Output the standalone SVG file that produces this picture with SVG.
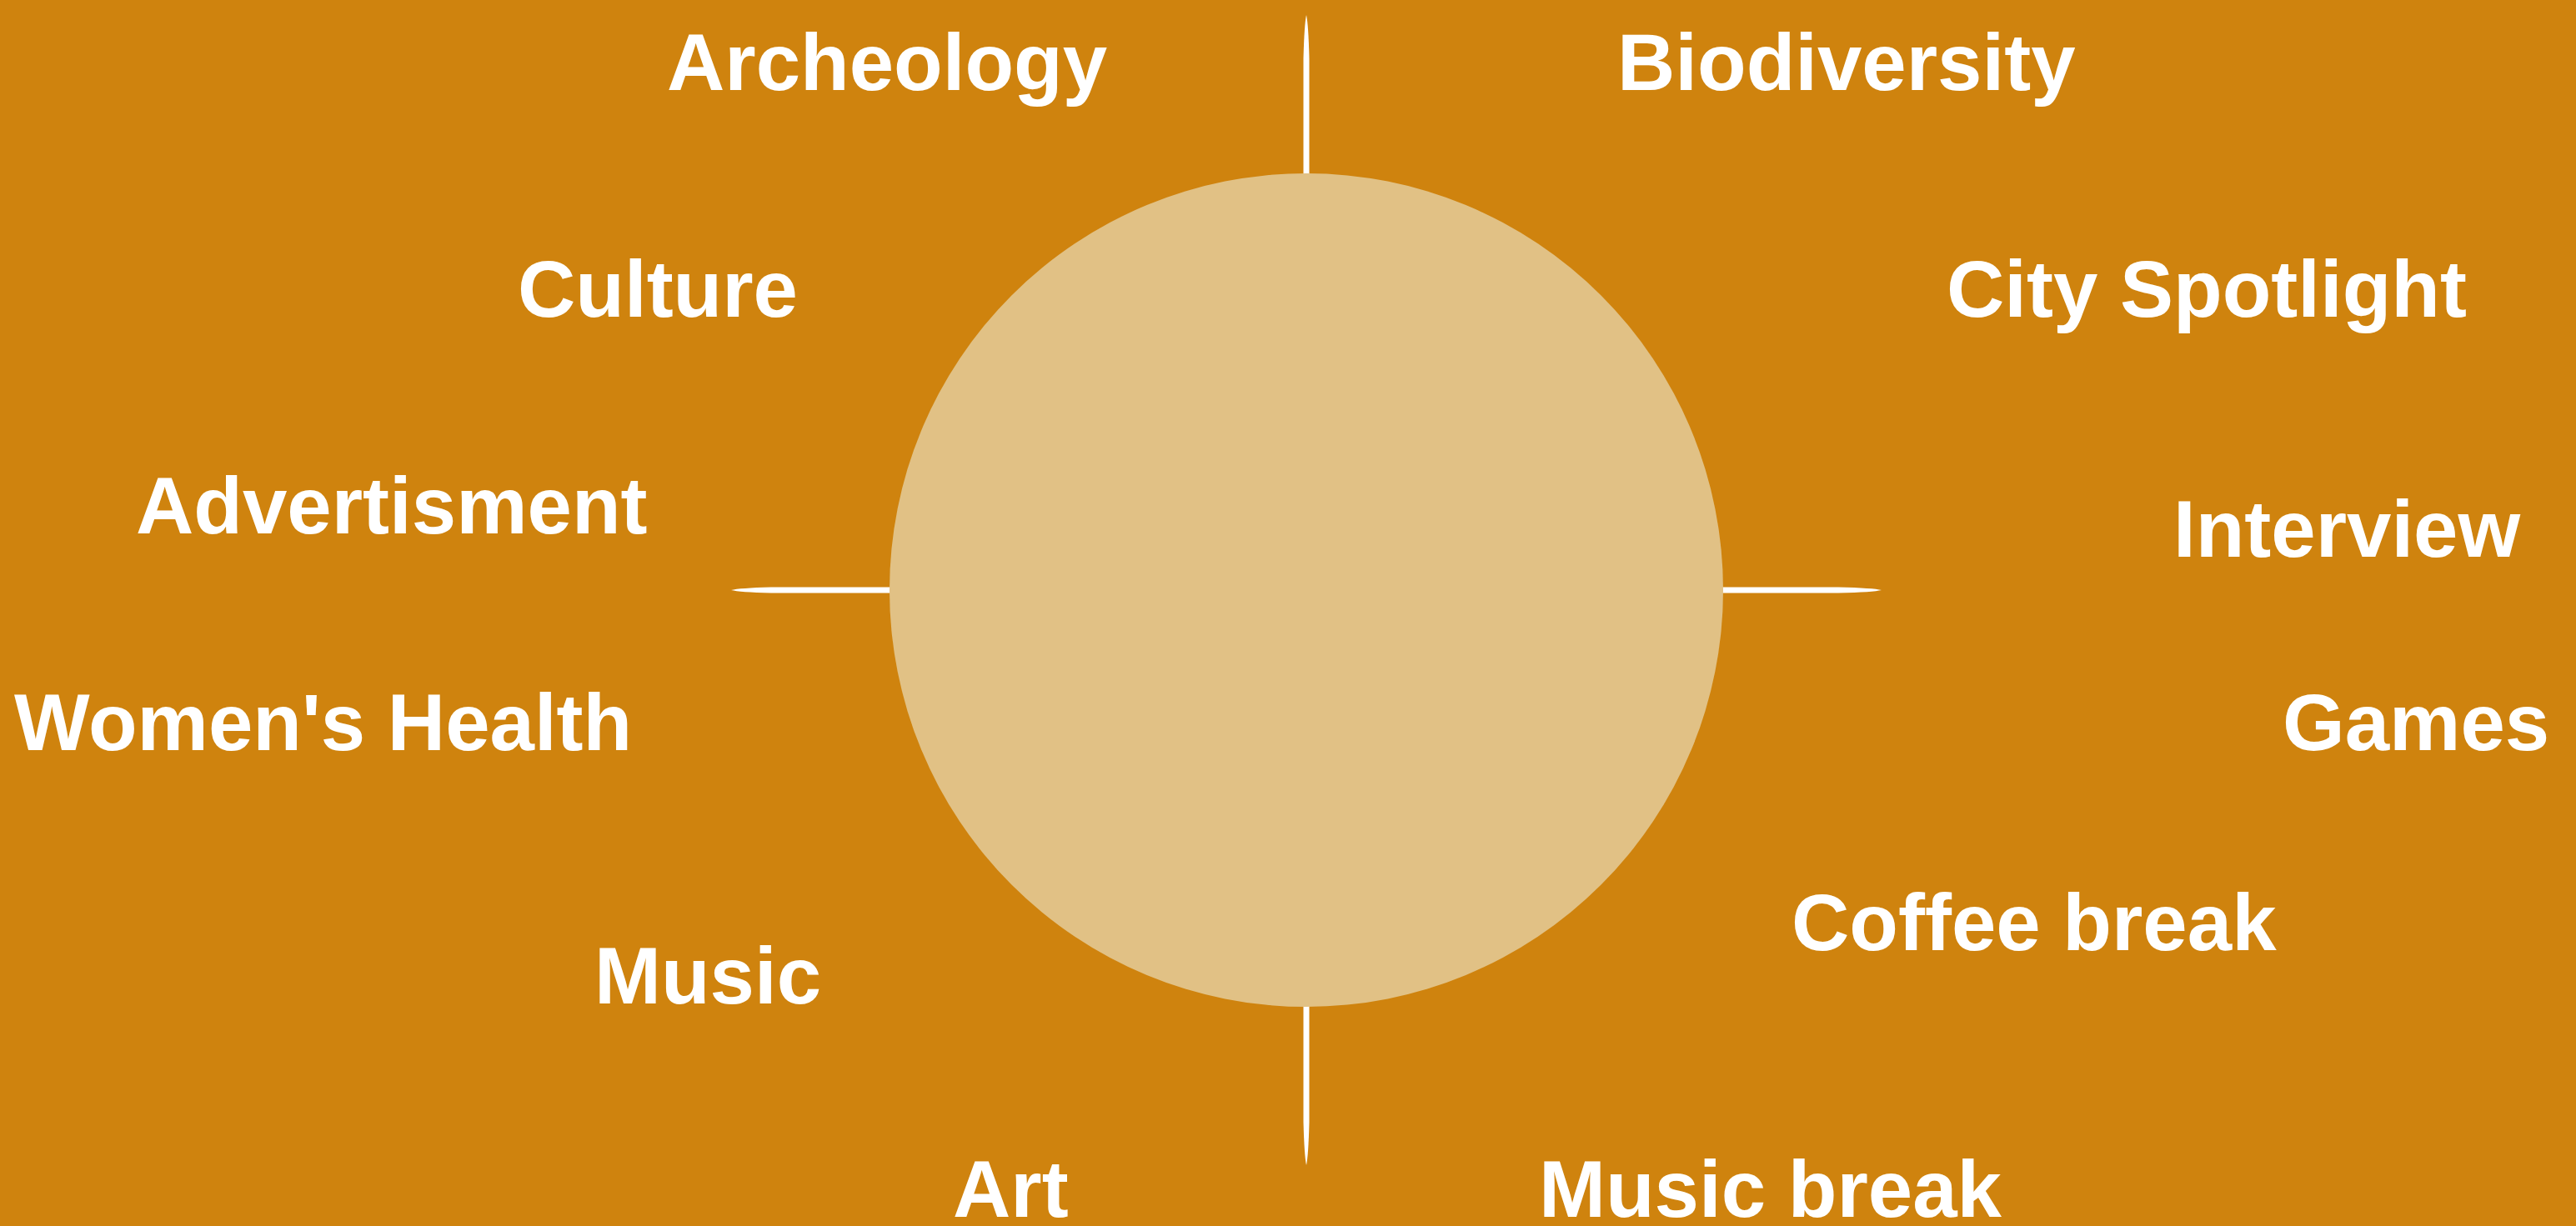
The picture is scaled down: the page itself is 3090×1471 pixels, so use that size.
<svg xmlns="http://www.w3.org/2000/svg" width="3090" height="1471" viewBox="0 0 3090 1471">
  <style>
    .bg { fill: #CF830E; }
    .hub { fill: #E1C185; }
    .spike { fill: #FFFFFF; }
    .label { font-family: "Liberation Sans", Arial, sans-serif; font-weight: bold; font-size: 96px; fill: #FFFFFF; }
  </style>

  <rect class="bg" x="0" y="0" width="3090" height="1471"/>

  <!-- four tapered spikes radiating from the hub -->
  <g id="connectors">
    <path class="spike" d="M 1563.5 400 L 1563.5 70 Q 1564.5 30 1567 18 Q 1569.5 30 1570.5 70 L 1570.5 400 Z"/>
    <path class="spike" d="M 1563.5 1000 L 1563.5 1346 Q 1564.5 1386 1567 1398 Q 1569.5 1386 1570.5 1346 L 1570.5 1000 Z"/>
    <path class="spike" d="M 1250 704.5 L 925 704.5 Q 887 705.5 877 708 Q 887 710.5 925 711.5 L 1250 711.5 Z"/>
    <path class="spike" d="M 1880 704.5 L 2205 704.5 Q 2247 705.5 2257 708 Q 2247 710.5 2205 711.5 L 1880 711.5 Z"/>
  </g>

  <g id="hub">
    <circle class="hub" cx="1567" cy="708" r="500"/>
  </g>

  <g id="topic-archeology"><text class="label" x="800" y="108">Archeology</text></g>
  <g id="topic-biodiversity"><text class="label" x="1940" y="108">Biodiversity</text></g>
  <g id="topic-culture"><text class="label" x="621" y="380">Culture</text></g>
  <g id="topic-city-spotlight"><text class="label" x="2335" y="380">City Spotlight</text></g>
  <g id="topic-advertisment"><text class="label" x="163" y="640">Advertisment</text></g>
  <g id="topic-interview"><text class="label" x="2607" y="668">Interview</text></g>
  <g id="topic-womens-health"><text class="label" x="17" y="900">Women's Health</text></g>
  <g id="topic-games"><text class="label" x="2738" y="900">Games</text></g>
  <g id="topic-coffee-break"><text class="label" x="2149" y="1140">Coffee break</text></g>
  <g id="topic-music"><text class="label" x="713" y="1204">Music</text></g>
  <g id="topic-art"><text class="label" x="1143" y="1460">Art</text></g>
  <g id="topic-music-break"><text class="label" x="1846" y="1460">Music break</text></g>
</svg>
